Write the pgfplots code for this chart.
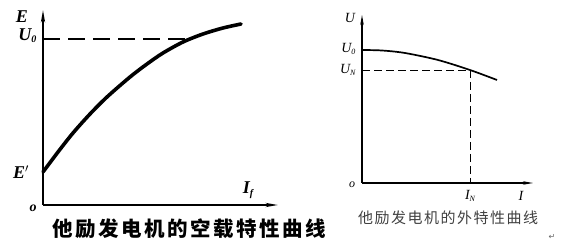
\documentclass[border=0pt]{standalone}
\usepackage{pgfplots}
\pgfplotsset{compat=1.18}
\usepackage{fontspec}
\setmainfont{Liberation Serif}
\newfontfamily\cjkbold{Noto Sans CJK SC}[LetterSpace=12]
\newfontfamily\cjklight{Noto Sans CJK SC}[LetterSpace=10]
\newfontfamily\symfont{DejaVu Sans}
\usetikzlibrary{arrows.meta}

% open-circuit characteristic E(I_f)
\pgfplotstableread{
x   y
0   33
15  53
30  72
47  91
64  108
87  128
104 141
120 152
140 163
160 171
180 177
198 181
}\noload

% external characteristic U(I)
\pgfplotstableread{
x   y
0   133
20  132.5
43  130
76  123
108 113
135 103
}\external

\begin{document}
\begin{tikzpicture}[x=1pt,y=1pt]
\path[use as bounding box] (0,0) rectangle (565,246);

% ---- left panel ----
\begin{axis}[
  at={(43pt,41pt)}, anchor=south west,
  scale only axis, width=235pt, height=195pt,
  xmin=0, xmax=235, ymin=0, ymax=195,
  axis lines=left, xtick=\empty, ytick=\empty,
  axis line style={line width=1.8pt},
  x axis line style={-{Stealth[length=12pt,width=4pt]}},
  y axis line style={-{Stealth[length=12pt,width=4pt]}},
  clip=false,
]
\addplot[black, line width=3.6pt, smooth, line cap=round] table[x=x,y=y] {\noload};
\addplot[black, line width=2.2pt, dash pattern=on 17pt off 8pt] coordinates {(0,166) (144,166)};
\node[font=\fontsize{18}{18}\selectfont\bfseries\itshape] at (axis cs:-21,188) {E};
\node[font=\fontsize{18}{18}\selectfont\bfseries\itshape, anchor=east] at (axis cs:-3,169) {U\lower2pt\hbox{\fontsize{10}{10}\selectfont 0}};
\node[font=\fontsize{18}{18}\selectfont\bfseries\itshape] at (axis cs:-22,33) {E$'$};
\node[font=\fontsize{14}{14}\selectfont\bfseries\itshape] at (axis cs:-10,-3) {o};
\node[font=\fontsize{18}{18}\selectfont\bfseries\itshape] at (axis cs:205,15) {I\lower3pt\hbox{\fontsize{10}{10}\selectfont f}};
\end{axis}
\node[font=\cjkbold\bfseries\fontsize{20.5}{20.5}\selectfont] at (189,17) {他励发电机的空载特性曲线};

% ---- right panel ----
\begin{axis}[
  at={(362pt,63pt)}, anchor=south west,
  scale only axis, width=171pt, height=168pt,
  xmin=0, xmax=171, ymin=0, ymax=168,
  axis lines=left, xtick=\empty, ytick=\empty,
  axis line style={line width=1.1pt},
  x axis line style={-{Stealth[length=10pt,width=3.5pt]}},
  y axis line style={-{Stealth[length=10pt,width=3.5pt]}},
  clip=false,
]
\addplot[black, line width=1.7pt, smooth] table[x=x,y=y] {\external};
\addplot[black, line width=0.9pt, dash pattern=on 8pt off 4pt] coordinates {(0,113) (108,113) (108,0)};
\node[font=\fontsize{14}{14}\selectfont\itshape] at (axis cs:-12,165) {U};
\node[font=\fontsize{14}{14}\selectfont\itshape, anchor=east] at (axis cs:-3,134) {U\lower1.5pt\hbox{\fontsize{8}{8}\selectfont 0}};
\node[font=\fontsize{14}{14}\selectfont\itshape, anchor=east] at (axis cs:-3,113) {U\lower1.5pt\hbox{\fontsize{8}{8}\selectfont N}};
\node[font=\fontsize{12}{12}\selectfont\itshape] at (axis cs:-10,-2) {o};
\node[font=\fontsize{14}{14}\selectfont\itshape] at (axis cs:108,-13) {I\lower1.5pt\hbox{\fontsize{8}{8}\selectfont N}};
\node[font=\fontsize{14}{14}\selectfont\itshape] at (axis cs:159,-13) {I};
\end{axis}
\node[font=\cjklight\fontsize{15}{15}\selectfont, text=black!75] at (448,28) {他励发电机的外特性曲线};
\node[font=\symfont\fontsize{8}{8}\selectfont, text=black!60] at (552,9) {↵};
\end{tikzpicture}
\end{document}
